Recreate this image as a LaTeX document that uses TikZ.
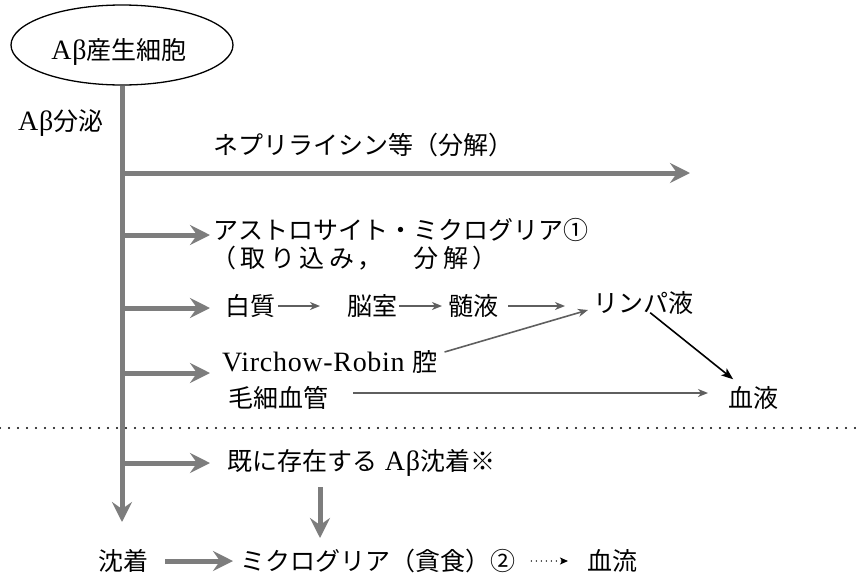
\documentclass[tikz,border=0pt]{standalone}
\usepackage{fontspec}
\setmainfont{Liberation Serif}[Scale=1.12,LetterSpace=2.5]
\newfontfamily\jp{Noto Sans CJK JP}
\newfontfamily\jpwide{Noto Sans CJK JP}[LetterSpace=18]
\usetikzlibrary{arrows.meta,shapes.geometric}
\definecolor{arrgray}{RGB}{125,125,125}
\definecolor{thingray}{RGB}{95,95,95}
\tikzset{
  txt/.style={anchor=west,inner sep=0pt,font=\fontsize{25}{28}\selectfont},
  thick arrow/.style={draw=arrgray,line width=5pt,-{Stealth[length=20pt,width=20pt,inset=7pt]}},
  thin arrow/.style={draw=thingray,line width=1.6pt,-{Stealth[length=10pt,width=8pt,inset=3pt]}},
  black arrow/.style={draw=black,line width=1.6pt,-{Stealth[length=12pt,width=9pt,inset=3pt]}},
}
\begin{document}
\begin{tikzpicture}[x=1pt,y=-1pt]
\useasboundingbox (0,0) rectangle (856,576);
% top ellipse
\node[ellipse,draw,line width=1.3pt,minimum width=222pt,minimum height=80pt,inner sep=0pt] (cell) at (122,45) {};
\node[inner sep=0pt,font=\fontsize{25}{28}\selectfont] (celltxt) at (119,52) {Aβ{\jp 産生細胞}};
\node[txt] (sec) at (18,123) {Aβ{\jp 分泌}};
% branch points
\coordinate (b1) at (122,173);
\coordinate (b2) at (122,235);
\coordinate (b3) at (122,308);
\coordinate (b4) at (122,373);
\coordinate (b5) at (122,463);
\coordinate (bot) at (122,522);
\coordinate (e1) at (690,173);
\coordinate (e2) at (210,235);
\coordinate (e3) at (210,308);
\coordinate (e4) at (210,373);
\coordinate (e5) at (210,463);
% texts
\node[txt] (t1) at (213,145) {\jp ネプリライシン等（分解）};
\node[txt] (t2) at (213,230) {\jp アストロサイト・ミクログリア①};
\node[txt] (t2b) at (211,258) {{\jpwide （取り込み，}\hspace{1.1em}{\jpwide 分解）}};
\node[txt] (hak) at (225,306) {\jp 白質};
\node[txt] (nou) at (347,306) {\jp 脳室};
\node[txt] (zui) at (448,306) {\jp 髄液};
\node[txt] (lin) at (593,303) {\jp リンパ液};
\node[txt] (vr) at (222,362) {Virchow-Robin {\jp 腔}};
\node[txt] (mou) at (228,398) {\jp 毛細血管};
\node[txt] (ket) at (728,398) {\jp 血液};
\node[txt] (kis) at (227,463) {{\jp 既に存在する} Aβ{\jp 沈着※}};
\node[txt] (chin) at (98,561) {\jp 沈着};
\node[txt] (mic) at (240,561) {\jp ミクログリア（貪食）②};
\node[txt] (ryu) at (587,561) {\jp 血流};
% trunk
\draw[thick arrow] (cell.south) -- (bot);
% branches
\draw[thick arrow] (b1) -- (e1);
\draw[thick arrow] (b2) -- (e2);
\draw[thick arrow] (b3) -- (e3);
\draw[thick arrow] (b4) -- (e4);
\draw[thick arrow] (b5) -- (e5);
% flow arrows
\draw[thin arrow,shorten <=3pt,shorten >=27pt] (hak.east) -- (nou.west);
\draw[thin arrow,shorten <=2pt,shorten >=6pt] (nou.east) -- (zui.west);
\draw[thin arrow,shorten <=10pt,shorten >=28pt] (zui.east) -- (zui.east -| lin.west);
\draw[thin arrow] ([xshift=7pt,yshift=10pt]vr.east) -- ([xshift=-5pt,yshift=-7pt]lin.west);
\draw[thin arrow,shorten <=25pt,shorten >=20pt] ([yshift=5pt]mou.east) -- ([yshift=5pt]mou.east -| ket.west);
\draw[black arrow] ([xshift=7pt,yshift=2pt]lin.south) -- ([xshift=-20pt,yshift=7pt]ket.north);
% dotted separator
\coordinate (dl) at (0,428);
\coordinate (dr) at (856,428);
\draw[line width=2.3pt,line cap=round,dash pattern=on 0pt off 9pt] (dl) -- (dr);
% bottom
\coordinate (d1) at (320,487);
\coordinate (d2) at (320,538);
\draw[thick arrow] (d1) -- (d2);
\draw[thick arrow,shorten <=17pt,shorten >=7pt] (chin.east) -- (mic.west);
\draw[line width=1.6pt,line cap=round,dash pattern=on 0pt off 5pt,-{Stealth[length=8pt,width=7pt,inset=2pt]},shorten <=16pt,shorten >=19pt] (mic.east) -- (ryu.west);
\end{tikzpicture}
\end{document}
